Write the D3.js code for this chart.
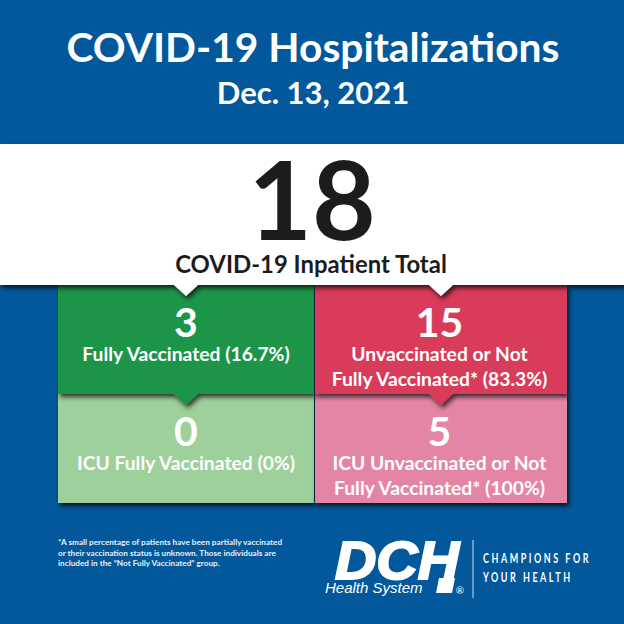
<!DOCTYPE html>
<html>
<head>
<meta charset="utf-8">
<script src="https://cdn.jsdelivr.net/npm/d3@7"></script>
<style>
  html, body { margin: 0; padding: 0; background: #02589b; }
  svg { display: block; }
  text { font-family: Lato, "Open Sans", sans-serif; font-weight: 700; text-anchor: middle; }
</style>
</head>
<body>
<div id="container"></div>
<script>
// values
const title = "COVID-19 Hospitalizations";
const dateLabel = "Dec. 13, 2021";
const total = 18;
const totalLabel = "COVID-19 Inpatient Total";

const columns = ["vaccinated", "unvaccinated"];
const rows = ["inpatient", "icu"];
const values = [3, 15, 0, 5];
const boxLabels = [
  ["Fully Vaccinated (16.7%)"],
  ["Unvaccinated or Not", "Fully Vaccinated* (83.3%)"],
  ["ICU Fully Vaccinated (0%)"],
  ["ICU Unvaccinated or Not", "Fully Vaccinated* (100%)"],
];
const boxColors = ["#1f9549", "#d93a5a", "#9dd09a", "#e585a5"];
const footnote = [
  "*A small percentage of patients have been partially vaccinated",
  "or their vaccination status is unknown. Those individuals are",
  "included in the \u201CNot Fully Vaccinated\u201D group.",
];
const tagline = ["CHAMPIONS FOR", "YOUR HEALTH"];

const width = 624,
  height = 624;

const svg = d3
  .select("#container")
  .append("svg")
  .attr("width", width)
  .attr("height", height);

//shadow used by the band and the boxes
const shadow = svg
  .append("defs")
  .append("filter")
  .attr("id", "shadow")
  .attr("x", "-10%")
  .attr("y", "-10%")
  .attr("width", "120%")
  .attr("height", "125%");
shadow
  .append("feDropShadow")
  .attr("dx", 2)
  .attr("dy", 3)
  .attr("stdDeviation", 2.5)
  .attr("flood-color", "#000")
  .attr("flood-opacity", 0.75);

svg.append("rect").attr("width", width).attr("height", height).attr("fill", "#02589b");

//Header
svg.append("text").attr("x", 313).attr("y", 62).attr("font-size", 40.7).attr("fill", "#fff").text(title);
svg.append("text").attr("x", 313).attr("y", 104).attr("font-size", 31).attr("fill", "#fff").text(dateLabel);

//the two columns are not quite the same width in the picture
const boxLeft = d3.scaleOrdinal().domain(columns).range([58, 315]);
const boxRight = d3.scaleOrdinal().domain(columns).range([314, 567]);
const boxMid = (col) => (boxLeft(col) + boxRight(col)) / 2;
const y = d3.scaleBand().domain(rows).range([285, 503]);

const cells = d3.cross(rows, columns).map(([row, col], i) => ({
  row,
  col,
  value: values[i],
  lines: boxLabels[i],
  color: boxColors[i],
}));

//icu row first so the top row shadow falls on it
const boxes = svg
  .selectAll("g.box")
  .data(cells.slice().sort((a, b) => d3.descending(a.row === "icu", b.row === "icu")))
  .enter()
  .append("g")
  .attr("class", "box");

boxes
  .filter((d) => d.row === "icu")
  .append("rect")
  .attr("x", (d) => boxLeft(d.col))
  .attr("y", (d) => y(d.row))
  .attr("width", (d) => boxRight(d.col) - boxLeft(d.col))
  .attr("height", y.bandwidth())
  .attr("fill", (d) => d.color)
  .attr("filter", "url(#shadow)");

boxes
  .filter((d) => d.row === "inpatient")
  .append("path")
  .attr("d", (d) => {
    const left = boxLeft(d.col),
      right = boxRight(d.col),
      top = y(d.row),
      bottom = top + y.bandwidth(),
      cx = boxMid(d.col);
    return (
      d3.line()([
        [left, top],
        [right, top],
        [right, bottom],
        [cx + 12, bottom],
        [cx, bottom + 11],
        [cx - 12, bottom],
        [left, bottom],
      ]) + "Z"
    );
  })
  .attr("fill", (d) => d.color)
  .attr("filter", "url(#shadow)");

//White band with the total, one pointer over each column
const bandBottom = y("inpatient");
const bandPoints = [[0, 144], [624, 144], [624, bandBottom]];
columns
  .slice()
  .reverse()
  .forEach((col) => {
    const cx = boxMid(col);
    bandPoints.push([cx + 12, bandBottom], [cx, bandBottom + 11], [cx - 12, bandBottom]);
  });
bandPoints.push([0, bandBottom]);
svg
  .append("path")
  .attr("d", d3.line()(bandPoints) + "Z")
  .attr("fill", "#fff")
  .attr("filter", "url(#shadow)");

svg.append("text").attr("x", 312).attr("y", 240).attr("font-size", 110).attr("fill", "#1c1b1d").text(total);
svg.append("text").attr("x", 311).attr("y", 273).attr("font-size", 23.9).attr("fill", "#1c1b1d").text(totalLabel);

//Box numbers and labels, the right column sits a little left of its centre
const cellText = svg
  .selectAll("g.cell-text")
  .data(cells)
  .enter()
  .append("g")
  .attr("class", "cell-text")
  .attr("transform", (d) => `translate(${boxMid(d.col) - (d.col === "unvaccinated" ? 1.5 : 0)},${y(d.row)})`)
  .attr("fill", "#fff");

cellText.append("text").attr("y", 51.5).attr("font-size", 41).text((d) => d.value);

cellText
  .selectAll("text.line")
  .data((d) => d.lines)
  .enter()
  .append("text")
  .attr("class", "line")
  .attr("y", (d, i) => 76 + i * 25)
  .attr("font-size", 19.3)
  .text((d) => d);

//Footnote
svg
  .append("g")
  .selectAll("text")
  .data(footnote)
  .enter()
  .append("text")
  .attr("x", 58)
  .attr("y", (d, i) => 545 + i * 10.5)
  .attr("font-size", 8.2)
  .attr("fill", "#e6f1f8")
  .style("text-anchor", "start")
  .text((d) => d);

//Logo
svg
  .append("text")
  .attr("transform", "translate(397,579) scale(1.08,1)")
  .attr("font-size", 53)
  .attr("fill", "#fff")
  .attr("stroke", "#fff")
  .attr("stroke-width", 2)
  .style("font-family", "'Liberation Sans', sans-serif")
  .style("font-style", "italic")
  .style("font-weight", 700)
  .text("DCH");
svg
  .append("path")
  .attr("d", "M439,578H455L452,593H436Z")
  .attr("fill", "#fff");
svg
  .append("text")
  .attr("x", 325)
  .attr("y", 593)
  .attr("font-size", 15)
  .attr("fill", "#fff")
  .style("text-anchor", "start")
  .style("font-family", "'Liberation Sans', sans-serif")
  .style("font-style", "italic")
  .style("font-weight", 400)
  .text("Health System");
svg
  .append("text")
  .attr("x", 460)
  .attr("y", 594)
  .attr("font-size", 10)
  .attr("fill", "#fff")
  .style("font-weight", 400)
  .text("\u00AE");
svg
  .append("line")
  .attr("x1", 473)
  .attr("x2", 473)
  .attr("y1", 540)
  .attr("y2", 598)
  .attr("stroke", "#cfe0ee")
  .attr("stroke-width", 1);
svg
  .append("g")
  .selectAll("text")
  .data(tagline)
  .enter()
  .append("text")
  .attr("transform", (d, i) => `translate(483,${563 + i * 18.5}) scale(0.72,1)`)
  .attr("font-size", 12.5)
  .attr("letter-spacing", 3.5)
  .attr("fill", "#fff")
  .style("text-anchor", "start")
  .text((d) => d);
</script>
</body>
</html>
